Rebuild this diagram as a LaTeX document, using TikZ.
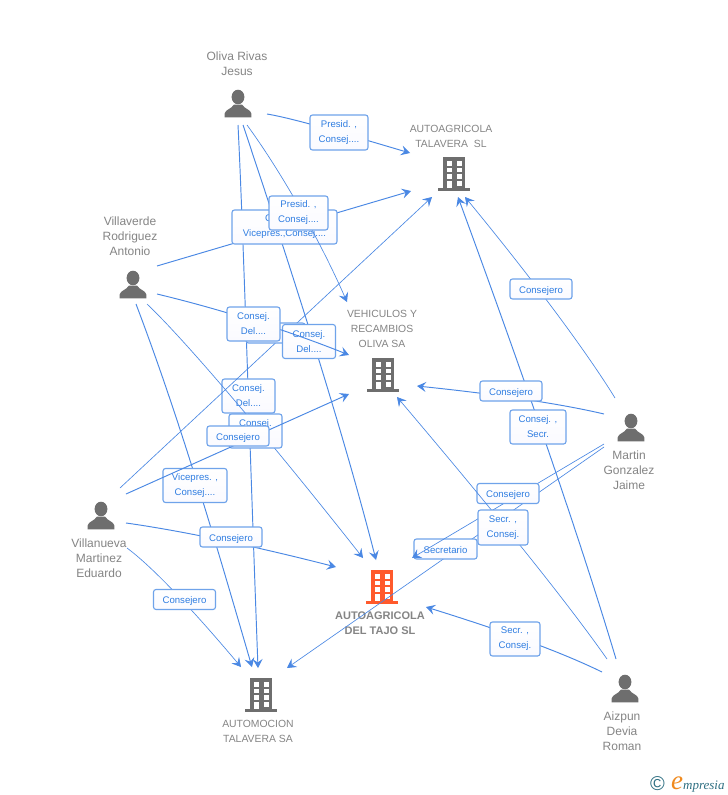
\documentclass[tikz,border=0pt]{standalone}
\usepackage{fontspec}
\setmainfont{Liberation Sans}
\newfontfamily\logofont{Liberation Serif}
\usetikzlibrary{calc,arrows.meta}
\definecolor{linkblue}{HTML}{4A88E4}
\definecolor{boxblue}{HTML}{6FA3EA}
\definecolor{textblue}{HTML}{2F7DE1}
\definecolor{icongrey}{HTML}{6E6E6E}
\definecolor{labelgrey}{HTML}{858585}
\definecolor{tajored}{HTML}{FF5A2C}
\definecolor{logoteal}{HTML}{2E6F82}
\definecolor{logoorange}{HTML}{F08A1E}
\tikzset{
	link/.style={draw=linkblue, line width=0.95pt, -{Stealth[length=9pt, width=10pt, inset=3.5pt]}},
	thinlink/.style={link, line width=0.65pt},
	role/.style={draw=boxblue, line width=1.1pt, rounded corners=2.5pt, top color=white, bottom color=black!3!blue!2!white, text=textblue, inner sep=0pt, align=center, font=\fontsize{9.6}{15}\selectfont, execute at begin node={\rule{0pt}{10pt}}},
	spot/.style={inner sep=0pt, minimum width=26pt, minimum height=28pt},
	who/.style={text=labelgrey, align=center, inner sep=0pt, font=\fontsize{12}{15}\selectfont},
	firm/.style={text=labelgrey, align=center, inner sep=0pt, font=\fontsize{10.4}{15}\selectfont},
	person/.pic={
		\fill[icongrey] (0, -6) ellipse (6.4 and 7.3);
		\fill[icongrey] (-13.3, 14.3) -- (-13.3, 10.5) .. controls (-12.8, 6.5) and (-6.5, 6) .. (-4, 1.5) -- (4, 1.5) .. controls (6.5, 6) and (12.8, 6.5) .. (13.3, 10.5) -- (13.3, 14.3) -- cycle;
	},
	building/.pic={
		\fill[pic actions] (-11, -16.7) rectangle (11, 14.3);
		\fill[pic actions] (-15.8, 14.3) rectangle (15.8, 16.7);
		\foreach \wy in {-13, -6.4, 0.2} {
			\fill[white] (-7.5, \wy) rectangle (-2.5, \wy+4.8);
			\fill[white] (2.5, \wy) rectangle (7.5, \wy+4.8);
		}
		\fill[white] (-7.5, 7.2) rectangle (-2.5, 14.3);
		\fill[white] (2.5, 7.2) rectangle (7.5, 11.5);
	},
}

\begin{document}
\begin{tikzpicture}[x=1pt, y=-1pt]
	%%%%% START %%%%%
	\useasboundingbox (0, 0) rectangle (728, 795);
	\fill[white] (0, 0) rectangle (728, 795);

	% people
	\node[spot] (oliva) at (238, 103) {};
	\node[spot] (villaverde) at (133, 284) {};
	\node[spot] (villanueva) at (101, 515) {};
	\node[spot] (martin) at (631, 427) {};
	\node[spot] (aizpun) at (625, 688) {};
	\pic at (oliva) {person};
	\pic at (villaverde) {person};
	\pic at (villanueva) {person};
	\pic at (martin) {person};
	\pic at (aizpun) {person};
	\node[who] (olivaname) at (237, 63.5) {Oliva Rivas\\Jesus};
	\node[who] (villaverdename) at (130, 236) {Villaverde\\Rodriguez\\Antonio};
	\node[who] (villanuevaname) at (99, 558) {Villanueva\\Martinez\\Eduardo};
	\node[who] (martinname) at (629, 470) {Martin\\Gonzalez\\Jaime};
	\node[who] (aizpunname) at (622, 731) {Aizpun\\Devia\\Roman};

	% companies
	\node[spot] (talavera) at (454, 174) {};
	\node[spot] (vehiculos) at (383, 375) {};
	\node[spot] (tajo) at (382, 587) {};
	\node[spot] (automocion) at (261, 695) {};
	\pic[fill=icongrey] at (talavera) {building};
	\pic[fill=icongrey] at (vehiculos) {building};
	\pic[fill=tajored] at (tajo) {building};
	\pic[fill=icongrey] at (automocion) {building};
	\node[firm] (talaveraname) at (451, 136) {AUTOAGRICOLA\\TALAVERA\ \ SL};
	\node[firm] (vehiculosname) at (382, 329) {VEHICULOS Y\\RECAMBIOS\\OLIVA SA};
	\node[firm, font=\fontsize{11}{15}\selectfont\bfseries] (tajoname) at (380, 623.5) {AUTOAGRICOLA\\DEL TAJO SL};
	\node[firm] (automocionname) at (258, 731.5) {AUTOMOCION\\TALAVERA SA};

	% links, each one followed by its role
	\draw[link] ($(oliva)+(0, 22)$) .. controls (243, 223) and (250, 454) .. ($(automocion)+(-3, -27)$);
	\node[role, minimum width=53pt, minimum height=34pt] (deloliva) at (248.5, 396) {Consej.\\Del....};

	\draw[thinlink] ($(villaverde)+(14, 20)$) .. controls (185, 340) and (270, 440) .. ($(tajo)+(-19, -29)$);
	\node[role, minimum width=53pt, minimum height=34pt] (delverde) at (255.5, 431) {Consej.\\Del....};

	\draw[thinlink] ($(villanueva)+(19, -27)$) -- ($(talavera)+(-22, 23)$);
	\node[role, minimum width=59pt, minimum height=20pt] (rolehidden) at (275.5, 333) {};

	\draw[link] ($(oliva)+(5, 22)$) .. controls (268, 200) and (335, 400) .. ($(tajo)+(-6, -27)$);
	\node[role, minimum width=53pt, minimum height=34pt] (deltajo) at (309, 341.5) {Consej.\\Del....};

	\draw[link] ($(villaverde)+(24, 10)$) .. controls (203, 305) and (274, 325) .. ($(vehiculos)+(-34, -20)$);
	\node[role, minimum width=53pt, minimum height=34pt] (delveh) at (253.5, 324) {Consej.\\Del....};

	\draw[link] ($(villaverde)+(24, -18)$) -- ($(talavera)+(-43, 17)$);
	\node[role, minimum width=105pt, minimum height=34pt] (vicetal) at (284.5, 227) {Consej. ,\\Vicepres.,Consej....};

	\draw[thinlink] ($(oliva)+(9, 22)$) .. controls (280, 170) and (320, 240) .. ($(vehiculos)+(-36, -73)$);
	\node[role, minimum width=59pt, minimum height=34pt] (presveh) at (298.5, 213) {Presid. ,\\Consej....};

	\draw[link] ($(oliva)+(29, 11)$) .. controls (293, 118.4) and (337, 131.4) .. ($(talavera)+(-44, -21)$);
	\node[role, minimum width=58pt, minimum height=35pt] (prestal) at (339, 132.5) {Presid. ,\\Consej....};

	\draw[link] ($(villaverde)+(3, 20)$) .. controls (180, 420) and (215, 540) .. ($(automocion)+(-9, -28)$);
	\node[role, minimum width=64pt, minimum height=34pt] (viceaut) at (195, 485.5) {Vicepres. ,\\Consej....};

	\draw[link] ($(villanueva)+(25, -21)$) -- ($(vehiculos)+(-34, 19)$);
	\node[role, minimum width=62pt, minimum height=20pt] (consveh) at (238, 436) {Consejero};

	\draw[link] ($(villanueva)+(25, 8)$) .. controls (176, 530) and (246, 544) .. ($(tajo)+(-46, -20)$);
	\node[role, minimum width=62pt, minimum height=20pt] (constajo) at (231, 537) {Consejero};

	\draw[thinlink] ($(villanueva)+(26, 33)$) .. controls (150, 565) and (188, 604) .. ($(automocion)+(-20, -28)$);
	\node[role, minimum width=62pt, minimum height=20pt] (consaut) at (184.5, 599.5) {Consejero};

	\draw[thinlink] ($(martin)+(-16, -29)$) .. controls (593, 362) and (544, 293) .. ($(talavera)+(11, 23)$);
	\node[role, minimum width=62pt, minimum height=20pt] (constal) at (541, 289) {Consejero};

	\draw[link] ($(aizpun)+(-9, -29)$) .. controls (581, 542) and (528, 388) .. ($(talavera)+(4, 23)$);
	\node[role, minimum width=56pt, minimum height=34pt] (sectal) at (538, 427) {Consej. ,\\Secr.};

	\draw[link] ($(martin)+(-27, -13)$) .. controls (566, 405) and (504, 395) .. ($(vehiculos)+(34, 11)$);
	\node[role, minimum width=62pt, minimum height=20pt] (consmartin) at (511, 391) {Consejero};

	\draw[thinlink] ($(martin)+(-27, 20)$) -- ($(automocion)+(26, -27)$);
	\node[role, minimum width=63pt, minimum height=20pt] (secaut) at (445.5, 549) {Secretario};

	\draw[thinlink] ($(martin)+(-27, 17)$) -- ($(tajo)+(30, -29)$);
	\node[role, minimum width=62pt, minimum height=20pt] (consjaime) at (508, 493.5) {Consejero};

	\draw[thinlink] ($(aizpun)+(-18, -29)$) .. controls (567, 602) and (497, 515) .. ($(vehiculos)+(14, 22)$);
	\node[role, minimum width=50pt, minimum height=35pt] (secveh) at (503, 527.5) {Secr. ,\\Consej.};

	\draw[link] ($(aizpun)+(-23, -16)$) .. controls (559, 651) and (500, 630) .. ($(tajo)+(44, 20)$);
	\node[role, minimum width=50pt, minimum height=34pt] (sectajo) at (515, 639) {Secr. ,\\Consej.};

	% logo
	\node[text=logoteal, inner sep=0pt, font=\fontsize{20}{20}\selectfont] (logomark) at (657.5, 784) {\copyright};
	\node[inner sep=0pt, anchor=base west, text=logoteal, font=\logofont\itshape\fontsize{13}{13}\selectfont] (logoname) at (671, 789) {\textcolor{logoorange}{\fontsize{27}{27}\selectfont e}mpresia};
	%%%%% END %%%%%
\end{tikzpicture}
\end{document}
